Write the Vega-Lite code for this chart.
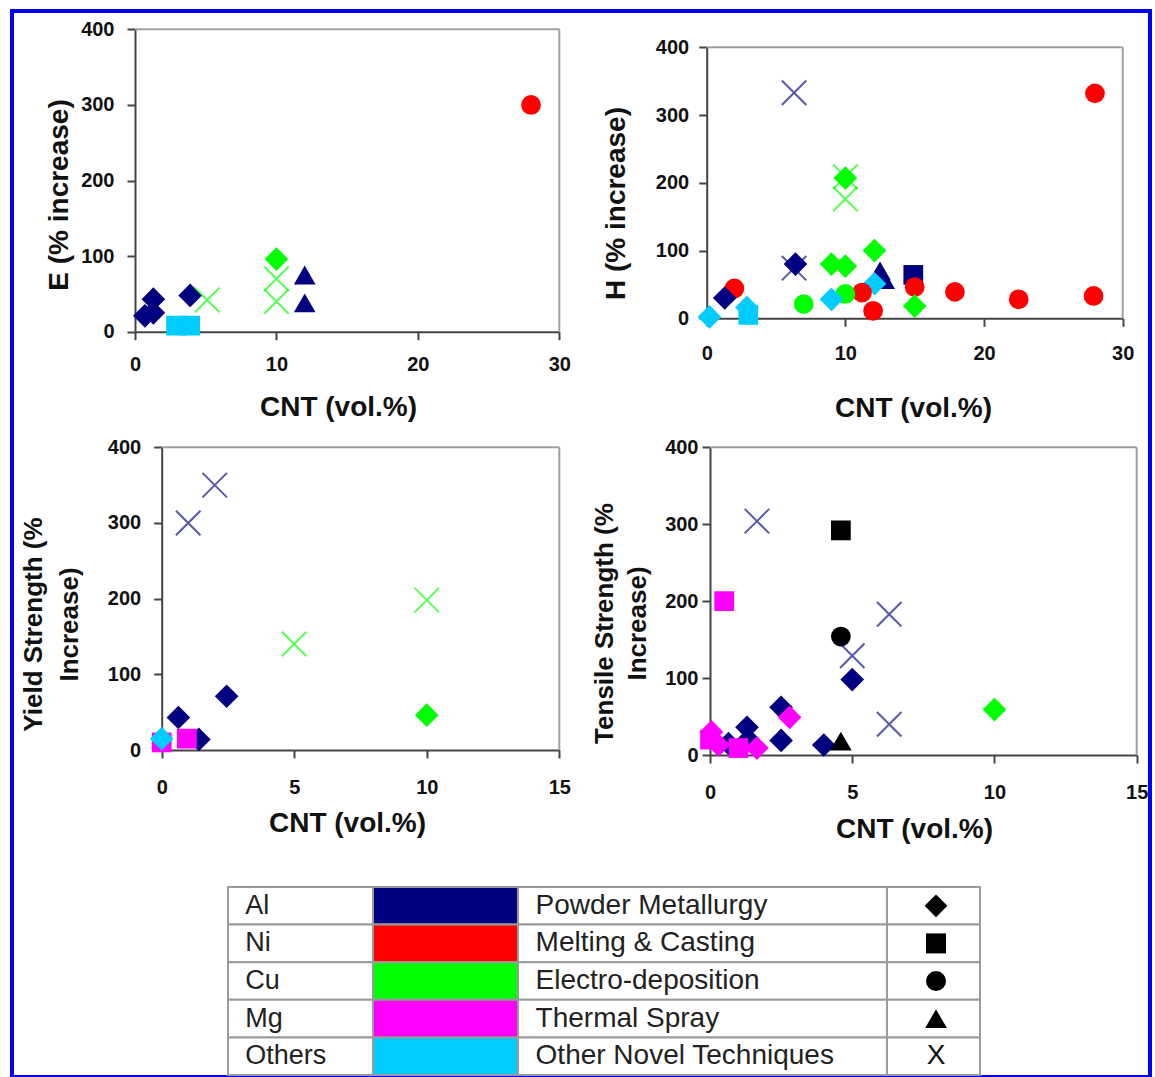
{
  "$schema": "https://vega.github.io/schema/vega-lite/v6.json",
  "width": 1138,
  "height": 1066,
  "autosize": "none",
  "padding": {"left": 12, "top": 11, "right": 5, "bottom": 0},
  "background": "white",
  "config": {
    "view": {"stroke": "#0000FF", "strokeWidth": 4},
    "font": "Liberation Sans",
    "axis": {
      "labelFont": "Liberation Sans", "labelFontSize": 20, "labelFontWeight": "bold", "labelColor": "#111",
      "titleFont": "Liberation Sans", "titleFontSize": 28, "titleFontWeight": "bold", "titleColor": "#111",
      "domainColor": "#444", "domainWidth": 2, "tickColor": "#444", "tickWidth": 2, "tickSize": 8,
      "grid": false, "labelFlush": false, "labelOverlap": false, "format": "d"
    }
  },
  "datasets": {
    "pts": [
      {"p": "E", "cnt": 0.7, "val": 21, "metal": "Al", "tech": "Powder Metallurgy"},
      {"p": "E", "cnt": 1.3, "val": 25, "metal": "Al", "tech": "Powder Metallurgy"},
      {"p": "E", "cnt": 1.3, "val": 43, "metal": "Al", "tech": "Powder Metallurgy"},
      {"p": "E", "cnt": 3.9, "val": 48, "metal": "Al", "tech": "Powder Metallurgy"},
      {"p": "E", "cnt": 2.9, "val": 8, "metal": "Others", "tech": "Melting & Casting"},
      {"p": "E", "cnt": 3.9, "val": 8, "metal": "Others", "tech": "Melting & Casting"},
      {"p": "E", "cnt": 5.1, "val": 42, "metal": "Cu", "tech": "Other Novel Techniques"},
      {"p": "E", "cnt": 10, "val": 96, "metal": "Cu", "tech": "Powder Metallurgy"},
      {"p": "E", "cnt": 10, "val": 70, "metal": "Cu", "tech": "Other Novel Techniques"},
      {"p": "E", "cnt": 10, "val": 40, "metal": "Cu", "tech": "Other Novel Techniques"},
      {"p": "E", "cnt": 12, "val": 75, "metal": "Al", "tech": "Thermal Spray"},
      {"p": "E", "cnt": 12, "val": 38, "metal": "Al", "tech": "Thermal Spray"},
      {"p": "E", "cnt": 28, "val": 300, "metal": "Ni", "tech": "Electro-deposition"},

      {"p": "H", "cnt": 6.3, "val": 333, "metal": "Al", "tech": "Other Novel Techniques"},
      {"p": "H", "cnt": 28, "val": 332, "metal": "Ni", "tech": "Electro-deposition"},
      {"p": "H", "cnt": 10, "val": 209, "metal": "Cu", "tech": "Other Novel Techniques"},
      {"p": "H", "cnt": 10, "val": 207, "metal": "Cu", "tech": "Powder Metallurgy"},
      {"p": "H", "cnt": 10, "val": 176, "metal": "Cu", "tech": "Other Novel Techniques"},
      {"p": "H", "cnt": 12.1, "val": 100, "metal": "Cu", "tech": "Powder Metallurgy"},
      {"p": "H", "cnt": 9, "val": 80, "metal": "Cu", "tech": "Powder Metallurgy"},
      {"p": "H", "cnt": 10, "val": 77, "metal": "Cu", "tech": "Powder Metallurgy"},
      {"p": "H", "cnt": 6.3, "val": 74, "metal": "Al", "tech": "Other Novel Techniques"},
      {"p": "H", "cnt": 6.4, "val": 80, "metal": "Al", "tech": "Powder Metallurgy"},
      {"p": "H", "cnt": 12.5, "val": 70, "metal": "Al", "tech": "Thermal Spray"},
      {"p": "H", "cnt": 12.8, "val": 57, "metal": "Al", "tech": "Thermal Spray"},
      {"p": "H", "cnt": 12.1, "val": 51, "metal": "Others", "tech": "Powder Metallurgy"},
      {"p": "H", "cnt": 14.9, "val": 64, "metal": "Al", "tech": "Melting & Casting"},
      {"p": "H", "cnt": 15, "val": 46, "metal": "Ni", "tech": "Electro-deposition"},
      {"p": "H", "cnt": 15, "val": 18, "metal": "Cu", "tech": "Powder Metallurgy"},
      {"p": "H", "cnt": 11.2, "val": 38, "metal": "Ni", "tech": "Electro-deposition"},
      {"p": "H", "cnt": 12, "val": 11, "metal": "Ni", "tech": "Electro-deposition"},
      {"p": "H", "cnt": 10, "val": 36, "metal": "Cu", "tech": "Electro-deposition"},
      {"p": "H", "cnt": 7, "val": 21, "metal": "Cu", "tech": "Electro-deposition"},
      {"p": "H", "cnt": 9, "val": 28, "metal": "Others", "tech": "Powder Metallurgy"},
      {"p": "H", "cnt": 17.9, "val": 39, "metal": "Ni", "tech": "Electro-deposition"},
      {"p": "H", "cnt": 22.5, "val": 28, "metal": "Ni", "tech": "Electro-deposition"},
      {"p": "H", "cnt": 27.9, "val": 33, "metal": "Ni", "tech": "Electro-deposition"},
      {"p": "H", "cnt": 2.0, "val": 44, "metal": "Ni", "tech": "Electro-deposition"},
      {"p": "H", "cnt": 1.3, "val": 30, "metal": "Al", "tech": "Powder Metallurgy"},
      {"p": "H", "cnt": 0.2, "val": 2, "metal": "Others", "tech": "Powder Metallurgy"},
      {"p": "H", "cnt": 3, "val": 5, "metal": "Others", "tech": "Melting & Casting"},
      {"p": "H", "cnt": 2.9, "val": 16, "metal": "Others", "tech": "Powder Metallurgy"},

      {"p": "Y", "cnt": 2, "val": 350, "metal": "Al", "tech": "Other Novel Techniques"},
      {"p": "Y", "cnt": 1, "val": 300, "metal": "Al", "tech": "Other Novel Techniques"},
      {"p": "Y", "cnt": 5, "val": 140, "metal": "Cu", "tech": "Other Novel Techniques"},
      {"p": "Y", "cnt": 10, "val": 198, "metal": "Cu", "tech": "Other Novel Techniques"},
      {"p": "Y", "cnt": 10, "val": 46, "metal": "Cu", "tech": "Powder Metallurgy"},
      {"p": "Y", "cnt": 2.45, "val": 71, "metal": "Al", "tech": "Powder Metallurgy"},
      {"p": "Y", "cnt": 0.63, "val": 43, "metal": "Al", "tech": "Powder Metallurgy"},
      {"p": "Y", "cnt": 1.4, "val": 14, "metal": "Al", "tech": "Powder Metallurgy"},
      {"p": "Y", "cnt": 0.95, "val": 15, "metal": "Mg", "tech": "Melting & Casting"},
      {"p": "Y", "cnt": 0, "val": 10, "metal": "Mg", "tech": "Melting & Casting"},
      {"p": "Y", "cnt": 0, "val": 15, "metal": "Others", "tech": "Powder Metallurgy"},

      {"p": "T", "cnt": 1.65, "val": 304, "metal": "Al", "tech": "Other Novel Techniques"},
      {"p": "T", "cnt": 4.6, "val": 292, "metal": "Unlisted", "tech": "Melting & Casting"},
      {"p": "T", "cnt": 0.5, "val": 200, "metal": "Mg", "tech": "Melting & Casting"},
      {"p": "T", "cnt": 6.3, "val": 183, "metal": "Al", "tech": "Other Novel Techniques"},
      {"p": "T", "cnt": 4.6, "val": 154, "metal": "Unlisted", "tech": "Electro-deposition"},
      {"p": "T", "cnt": 5.0, "val": 129, "metal": "Al", "tech": "Other Novel Techniques"},
      {"p": "T", "cnt": 5.0, "val": 98, "metal": "Al", "tech": "Powder Metallurgy"},
      {"p": "T", "cnt": 10, "val": 59, "metal": "Cu", "tech": "Powder Metallurgy"},
      {"p": "T", "cnt": 6.3, "val": 40, "metal": "Al", "tech": "Other Novel Techniques"},
      {"p": "T", "cnt": 2.5, "val": 62, "metal": "Al", "tech": "Powder Metallurgy"},
      {"p": "T", "cnt": 2.8, "val": 49, "metal": "Mg", "tech": "Powder Metallurgy"},
      {"p": "T", "cnt": 2.5, "val": 19, "metal": "Al", "tech": "Powder Metallurgy"},
      {"p": "T", "cnt": 4.0, "val": 13, "metal": "Al", "tech": "Powder Metallurgy"},
      {"p": "T", "cnt": 4.6, "val": 18, "metal": "Unlisted", "tech": "Thermal Spray"},
      {"p": "T", "cnt": 1.3, "val": 36, "metal": "Al", "tech": "Powder Metallurgy"},
      {"p": "T", "cnt": 1.35, "val": 20, "metal": "Al", "tech": "Powder Metallurgy"},
      {"p": "T", "cnt": 0.65, "val": 15, "metal": "Al", "tech": "Powder Metallurgy"},
      {"p": "T", "cnt": 0.05, "val": 30, "metal": "Mg", "tech": "Powder Metallurgy"},
      {"p": "T", "cnt": 0, "val": 20, "metal": "Mg", "tech": "Melting & Casting"},
      {"p": "T", "cnt": 0.3, "val": 13, "metal": "Mg", "tech": "Powder Metallurgy"},
      {"p": "T", "cnt": 1.0, "val": 9, "metal": "Mg", "tech": "Melting & Casting"},
      {"p": "T", "cnt": 1.65, "val": 9, "metal": "Mg", "tech": "Powder Metallurgy"}
    ],
    "leg": [
      {"metal": "Al", "tech": "Powder Metallurgy"},
      {"metal": "Ni", "tech": "Melting & Casting"},
      {"metal": "Cu", "tech": "Electro-deposition"},
      {"metal": "Mg", "tech": "Thermal Spray"},
      {"metal": "Others", "tech": "Other Novel Techniques"}
    ]
  },
  "layer": [
    {
      "data": {"name": "pts"},
      "transform": [{"filter": "datum.p === 'E'"}],
      "layer": [
        {
          "data": {"values": [{}]},
          "mark": {"type": "rule", "color": "#a0a0a0", "strokeWidth": 2},
          "encoding": {"x": {"datum": 0, "type": "quantitative"}, "x2": {"datum": 30}, "y": {"datum": 400, "type": "quantitative"}}
        },
        {
          "data": {"values": [{}]},
          "mark": {"type": "rule", "color": "#a0a0a0", "strokeWidth": 2},
          "encoding": {"x": {"datum": 30, "type": "quantitative"}, "y": {"datum": 0, "type": "quantitative"}, "y2": {"datum": 400}}
        },
        {
          "transform": [{"filter": "datum.tech !== 'Other Novel Techniques'"}],
          "mark": {"type": "point", "filled": true, "opacity": 1},
          "encoding": {
            "x": {"field": "cnt", "type": "quantitative", "scale": {"domain": [0, 30], "range": [123, 547.3], "nice": false, "zero": false},
              "axis": {"orient": "bottom", "offset": -745.3, "values": [0, 10, 20, 30], "title": "CNT (vol.%)", "labelPadding": 15, "titleX": 326, "titleY": 84, "titleBaseline": "alphabetic", "titleAlign": "center", "titleAngle": 0}},
            "y": {"field": "val", "type": "quantitative", "scale": {"domain": [0, 400], "range": [320.7, 18.3], "nice": false, "zero": false},
              "axis": {"orient": "left", "offset": -123, "values": [0, 100, 200, 300, 400], "title": "E (% increase)", "labelPadding": 13, "titleX": -68, "titleY": 183.5, "titleBaseline": "alphabetic", "titleAngle": -90, "titleAlign": "center"}},
            "color": {"field": "metal", "type": "nominal", "scale": {"domain": ["Al", "Ni", "Cu", "Mg", "Others", "Unlisted"], "range": ["#000080", "#FF0000", "#00FF00", "#FF00FF", "#00CCFF", "#000000"]}, "legend": null},
            "shape": {"field": "tech", "type": "nominal", "scale": {"domain": ["Powder Metallurgy", "Melting & Casting", "Electro-deposition", "Thermal Spray", "Other Novel Techniques"], "range": ["diamond", "square", "circle", "triangle-up", "M-1,-1L1,1M-1,1L1,-1"]}, "legend": null},
            "size": {"condition": [{"test": "datum.tech === 'Powder Metallurgy'", "value": 560}, {"test": "datum.tech === 'Thermal Spray'", "value": 470}], "value": 390}
          }
        },
        {
          "transform": [{"filter": "datum.tech === 'Other Novel Techniques'"}],
          "mark": {"type": "point", "filled": false, "opacity": 0.65, "size": 600, "strokeWidth": 2},
          "encoding": {
            "x": {"field": "cnt", "type": "quantitative"},
            "y": {"field": "val", "type": "quantitative"},
            "color": {"field": "metal", "type": "nominal", "legend": null},
            "shape": {"field": "tech", "type": "nominal", "legend": null}
          }
        }
      ]
    },
    {
      "data": {"name": "pts"},
      "transform": [{"filter": "datum.p === 'H'"}],
      "layer": [
        {
          "data": {"values": [{}]},
          "mark": {"type": "rule", "color": "#a0a0a0", "strokeWidth": 2},
          "encoding": {"x": {"datum": 0, "type": "quantitative"}, "x2": {"datum": 30}, "y": {"datum": 400, "type": "quantitative"}}
        },
        {
          "data": {"values": [{}]},
          "mark": {"type": "rule", "color": "#a0a0a0", "strokeWidth": 2},
          "encoding": {"x": {"datum": 30, "type": "quantitative"}, "y": {"datum": 0, "type": "quantitative"}, "y2": {"datum": 400}}
        },
        {
          "transform": [{"filter": "datum.tech !== 'Other Novel Techniques'"}],
          "mark": {"type": "point", "filled": true, "opacity": 1},
          "encoding": {
            "x": {"field": "cnt", "type": "quantitative", "scale": {"domain": [0, 30], "range": [694.7, 1110.7], "nice": false, "zero": false},
              "axis": {"orient": "bottom", "offset": -758.7, "values": [0, 10, 20, 30], "title": "CNT (vol.%)", "labelPadding": 17, "titleX": 901, "titleY": 97.7, "titleBaseline": "alphabetic", "titleAlign": "center", "titleAngle": 0}},
            "y": {"field": "val", "type": "quantitative", "scale": {"domain": [0, 400], "range": [307.3, 36.3], "nice": false, "zero": false},
              "axis": {"orient": "left", "offset": -694.7, "values": [0, 100, 200, 300, 400], "title": "H (% increase)", "labelPadding": 10, "titleX": -82, "titleY": 192, "titleBaseline": "alphabetic", "titleAngle": -90, "titleAlign": "center"}},
            "color": {"field": "metal", "type": "nominal", "legend": null},
            "shape": {"field": "tech", "type": "nominal", "legend": null},
            "size": {"condition": [{"test": "datum.tech === 'Powder Metallurgy'", "value": 560}, {"test": "datum.tech === 'Thermal Spray'", "value": 470}], "value": 390}
          }
        },
        {
          "transform": [{"filter": "datum.tech === 'Other Novel Techniques'"}],
          "mark": {"type": "point", "filled": false, "opacity": 0.65, "size": 600, "strokeWidth": 2},
          "encoding": {
            "x": {"field": "cnt", "type": "quantitative"},
            "y": {"field": "val", "type": "quantitative"},
            "color": {"field": "metal", "type": "nominal", "legend": null},
            "shape": {"field": "tech", "type": "nominal", "legend": null}
          }
        }
      ]
    },
    {
      "data": {"name": "pts"},
      "transform": [{"filter": "datum.p === 'Y'"}],
      "layer": [
        {
          "data": {"values": [{}]},
          "mark": {"type": "rule", "color": "#a0a0a0", "strokeWidth": 2},
          "encoding": {"x": {"datum": 0, "type": "quantitative"}, "x2": {"datum": 15}, "y": {"datum": 400, "type": "quantitative"}}
        },
        {
          "data": {"values": [{}]},
          "mark": {"type": "rule", "color": "#a0a0a0", "strokeWidth": 2},
          "encoding": {"x": {"datum": 15, "type": "quantitative"}, "y": {"datum": 0, "type": "quantitative"}, "y2": {"datum": 400}}
        },
        {
          "transform": [{"filter": "datum.tech !== 'Other Novel Techniques'"}],
          "mark": {"type": "point", "filled": true, "opacity": 1},
          "encoding": {
            "x": {"field": "cnt", "type": "quantitative", "scale": {"domain": [0, 15], "range": [149.7, 547.3], "nice": false, "zero": false},
              "axis": {"orient": "bottom", "offset": -327, "values": [0, 5, 10, 15], "title": "CNT (vol.%)", "labelPadding": 19, "titleX": 335, "titleY": 81, "titleBaseline": "alphabetic", "titleAlign": "center", "titleAngle": 0}},
            "y": {"field": "val", "type": "quantitative", "scale": {"domain": [0, 400], "range": [739, 436.3], "nice": false, "zero": false},
              "axis": {"orient": "left", "offset": -149.7, "values": [0, 100, 200, 300, 400], "title": ["Yield Strength  (%", "Increase)"], "labelPadding": 13, "titleX": -120, "titleY": 613, "titleLineHeight": 36, "titleBaseline": "alphabetic", "titleAngle": -90, "titleAlign": "center", "titleFontSize": 26}},
            "color": {"field": "metal", "type": "nominal", "legend": null},
            "shape": {"field": "tech", "type": "nominal", "legend": null},
            "size": {"condition": [{"test": "datum.tech === 'Powder Metallurgy'", "value": 560}, {"test": "datum.tech === 'Thermal Spray'", "value": 470}], "value": 390}
          }
        },
        {
          "transform": [{"filter": "datum.tech === 'Other Novel Techniques'"}],
          "mark": {"type": "point", "filled": false, "opacity": 0.65, "size": 600, "strokeWidth": 2},
          "encoding": {
            "x": {"field": "cnt", "type": "quantitative"},
            "y": {"field": "val", "type": "quantitative"},
            "color": {"field": "metal", "type": "nominal", "legend": null},
            "shape": {"field": "tech", "type": "nominal", "legend": null}
          }
        }
      ]
    },
    {
      "data": {"name": "pts"},
      "transform": [{"filter": "datum.p === 'T'"}],
      "layer": [
        {
          "data": {"values": [{}]},
          "mark": {"type": "rule", "color": "#a0a0a0", "strokeWidth": 2},
          "encoding": {"x": {"datum": 0, "type": "quantitative"}, "x2": {"datum": 15}, "y": {"datum": 400, "type": "quantitative"}}
        },
        {
          "data": {"values": [{}]},
          "mark": {"type": "rule", "color": "#a0a0a0", "strokeWidth": 2},
          "encoding": {"x": {"datum": 15, "type": "quantitative"}, "y": {"datum": 0, "type": "quantitative"}, "y2": {"datum": 400}}
        },
        {
          "transform": [{"filter": "datum.tech !== 'Other Novel Techniques'"}],
          "mark": {"type": "point", "filled": true, "opacity": 1},
          "encoding": {
            "x": {"field": "cnt", "type": "quantitative", "scale": {"domain": [0, 15], "range": [698, 1124.7], "nice": false, "zero": false},
              "axis": {"orient": "bottom", "offset": -322, "values": [0, 5, 10, 15], "title": "CNT (vol.%)", "labelPadding": 19, "titleX": 902, "titleY": 82, "titleBaseline": "alphabetic", "titleAlign": "center", "titleAngle": 0}},
            "y": {"field": "val", "type": "quantitative", "scale": {"domain": [0, 400], "range": [744, 436.3], "nice": false, "zero": false},
              "axis": {"orient": "left", "offset": -698, "values": [0, 100, 200, 300, 400], "title": ["Tensile Strength  (%", "Increase)"], "labelPadding": 4, "titleX": -98, "titleY": 612, "titleLineHeight": 33, "titleBaseline": "alphabetic", "titleAngle": -90, "titleAlign": "center", "titleFontSize": 26}},
            "color": {"field": "metal", "type": "nominal", "legend": null},
            "shape": {"field": "tech", "type": "nominal", "legend": null},
            "size": {"condition": [{"test": "datum.tech === 'Powder Metallurgy'", "value": 560}, {"test": "datum.tech === 'Thermal Spray'", "value": 470}], "value": 390}
          }
        },
        {
          "transform": [{"filter": "datum.tech === 'Other Novel Techniques'"}],
          "mark": {"type": "point", "filled": false, "opacity": 0.65, "size": 600, "strokeWidth": 2},
          "encoding": {
            "x": {"field": "cnt", "type": "quantitative"},
            "y": {"field": "val", "type": "quantitative"},
            "color": {"field": "metal", "type": "nominal", "legend": null},
            "shape": {"field": "tech", "type": "nominal", "legend": null}
          }
        }
      ]
    },
    {
      "data": {"name": "leg"},
      "layer": [
        {
          "mark": {"type": "rect", "fill": "white", "stroke": "#9a9a9a", "strokeWidth": 2},
          "encoding": {
            "x": {"datum": 0, "type": "quantitative", "scale": {"domain": [0, 100], "range": [216, 968], "nice": false, "zero": false}, "axis": null},
            "x2": {"datum": 19.28},
            "y": {"field": "metal", "type": "nominal", "sort": ["Al", "Ni", "Cu", "Mg", "Others"], "scale": {"range": [876, 1064], "paddingInner": 0, "paddingOuter": 0}, "axis": null}
          }
        },
        {
          "mark": {"type": "rect", "stroke": "#9a9a9a", "strokeWidth": 2, "opacity": 1},
          "encoding": {
            "x": {"datum": 19.28, "type": "quantitative"},
            "x2": {"datum": 38.56},
            "y": {"field": "metal", "type": "nominal", "sort": ["Al", "Ni", "Cu", "Mg", "Others"]},
            "color": {"field": "metal", "type": "nominal", "legend": null}
          }
        },
        {
          "mark": {"type": "rect", "fill": "white", "stroke": "#9a9a9a", "strokeWidth": 2},
          "encoding": {
            "x": {"datum": 38.56, "type": "quantitative"},
            "x2": {"datum": 87.63},
            "y": {"field": "metal", "type": "nominal", "sort": ["Al", "Ni", "Cu", "Mg", "Others"]}
          }
        },
        {
          "mark": {"type": "rect", "fill": "white", "stroke": "#9a9a9a", "strokeWidth": 2},
          "encoding": {
            "x": {"datum": 87.63, "type": "quantitative"},
            "x2": {"datum": 100},
            "y": {"field": "metal", "type": "nominal", "sort": ["Al", "Ni", "Cu", "Mg", "Others"]}
          }
        },
        {
          "mark": {"type": "text", "align": "left", "baseline": "middle", "fontSize": 27, "font": "Liberation Sans", "color": "#222"},
          "encoding": {
            "x": {"datum": 2.3, "type": "quantitative"},
            "y": {"field": "metal", "type": "nominal", "sort": ["Al", "Ni", "Cu", "Mg", "Others"]},
            "text": {"field": "metal"}
          }
        },
        {
          "mark": {"type": "text", "align": "left", "baseline": "middle", "fontSize": 28, "font": "Liberation Sans", "color": "#222"},
          "encoding": {
            "x": {"datum": 40.9, "type": "quantitative"},
            "y": {"field": "metal", "type": "nominal", "sort": ["Al", "Ni", "Cu", "Mg", "Others"]},
            "text": {"field": "tech"}
          }
        },
        {
          "transform": [{"filter": "datum.tech !== 'Other Novel Techniques'"}],
          "mark": {"type": "point", "filled": true, "opacity": 1, "color": "black"},
          "encoding": {
            "x": {"datum": 94.15, "type": "quantitative"},
            "y": {"field": "metal", "type": "nominal", "sort": ["Al", "Ni", "Cu", "Mg", "Others"]},
            "shape": {"field": "tech", "type": "nominal", "legend": null},
            "size": {"condition": [{"test": "datum.tech === 'Powder Metallurgy'", "value": 520}, {"test": "datum.tech === 'Thermal Spray'", "value": 470}], "value": 400}
          }
        },
        {
          "transform": [{"filter": "datum.tech === 'Other Novel Techniques'"}],
          "mark": {"type": "text", "align": "center", "baseline": "middle", "fontSize": 28, "font": "Liberation Sans", "color": "#111", "text": "X"},
          "encoding": {
            "x": {"datum": 94.15, "type": "quantitative"},
            "y": {"field": "metal", "type": "nominal", "sort": ["Al", "Ni", "Cu", "Mg", "Others"]}
          }
        }
      ]
    }
  ],
  "resolve": {"scale": {"x": "independent", "y": "independent"}}
}
